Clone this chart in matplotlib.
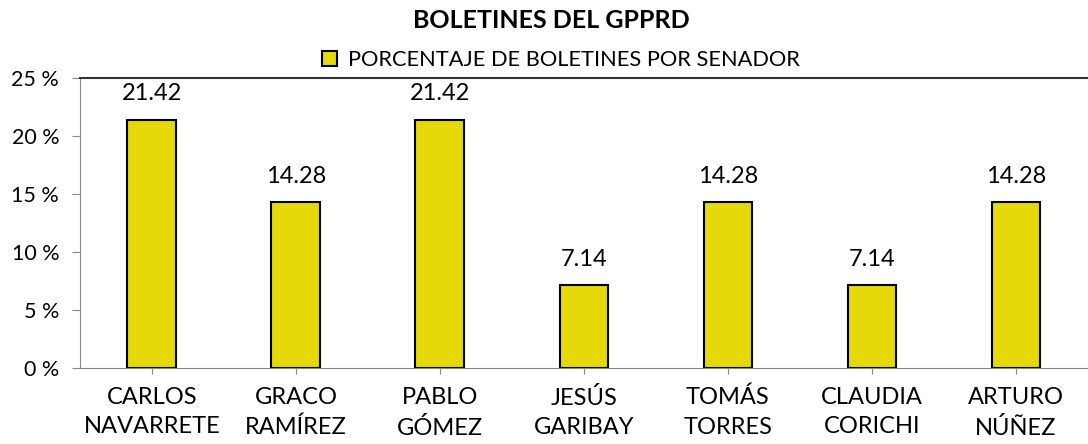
import matplotlib.pyplot as plt
from matplotlib.ticker import FuncFormatter

senadores = ["CARLOS\nNAVARRETE", "GRACO\nRAMÍREZ", "PABLO\nGÓMEZ", "JESÚS\nGARIBAY",
             "TOMÁS\nTORRES", "CLAUDIA\nCORICHI", "ARTURO\nNÚÑEZ"]
porcentajes = [21.42, 14.28, 21.42, 7.14, 14.28, 7.14, 14.28]
etiquetas = ["21.42", "14.28", "21.42", "7.14", "14.28", "7.14", "14.28"]

plt.rcParams['font.family'] = ['Lato', 'DejaVu Sans']

fig = plt.figure(figsize=(10.88, 4.44), dpi=100)
ax = fig.add_axes([0.0735, 0.171, 0.9265, 0.653])

x = list(range(len(senadores)))
bars = ax.bar(x, porcentajes, width=0.34, color='#E6D90A', edgecolor='black',
              linewidth=1.5, label="PORCENTAJE DE BOLETINES POR SENADOR")

for b, txt in zip(bars, etiquetas):
    ax.annotate(txt, (b.get_x() + b.get_width() / 2, b.get_height()),
                xytext=(0, 14), textcoords='offset points',
                ha='center', va='baseline', fontsize=17)

ax.set_xlim(-0.5, len(senadores) - 0.5)
ax.set_ylim(0, 25)
ax.set_yticks([0, 5, 10, 15, 20, 25])
ax.yaxis.set_major_formatter(FuncFormatter(lambda v, p: f"{int(v)} %"))
ax.set_xticks(x)
ax.set_xticklabels(senadores, fontsize=17, linespacing=1.5)
ax.tick_params(axis='y', labelsize=15.5, color='#888888', length=6, pad=9)
ax.tick_params(axis='x', color='#888888', length=4.5, pad=9)

ax.spines['right'].set_visible(False)
ax.spines['left'].set_color('#888888')
ax.spines['bottom'].set_color('#888888')
ax.spines['top'].set_color('#333333')
ax.spines['top'].set_linewidth(1.5)

fig.suptitle("BOLETINES DEL GPPRD", x=0.507, y=0.953, va='center', fontsize=18, fontweight='bold')
fig.legend(handles=[bars], loc='center', bbox_to_anchor=(0.5156, 0.865), frameon=False,
           fontsize=15.7, handlelength=0.65, handleheight=0.65, handletextpad=0.5)

fig.savefig("out.png", dpi=100)
